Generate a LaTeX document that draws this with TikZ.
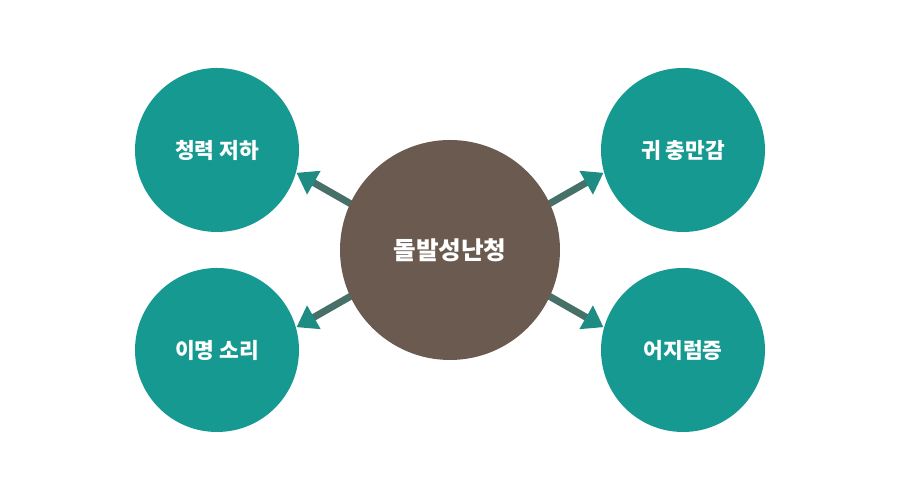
\documentclass[tikz,border=0pt]{standalone}
\usepackage{fontspec}
\newfontfamily\kr{Noto Sans CJK KR}
\usetikzlibrary{arrows.meta,backgrounds}
\definecolor{tealc}{RGB}{21,153,145}
\definecolor{brownc}{RGB}{106,90,80}
\definecolor{shaftc}{RGB}{70,112,104}
\definecolor{headc}{RGB}{30,140,130}
\tikzset{
    symptom/.style={circle,fill=tealc,minimum size=1.64cm,inner sep=0pt,
        text=white,font=\kr\bfseries\fontsize{6.1}{7}\selectfont},
    maincircle/.style={circle,fill=brownc,minimum size=2.2cm,inner sep=0pt,
        text=white,font=\kr\bfseries\fontsize{7}{8}\selectfont},
    pointer/.style={draw=shaftc,line width=0.07cm,
        -{Triangle[length=0.2cm,width=0.26cm,color=headc]}},
}
\newcommand\SymptomNode[3]{%
    \node[symptom] (#1) at (#2) {#3};
}

\begin{document}
\begin{tikzpicture}
    \useasboundingbox (0,0) rectangle (9,5);
    \node[maincircle] (main) at (4.5,2.5) {돌발성난청};
    \SymptomNode{tl}{2.17,3.5}{청력 저하}
    \SymptomNode{tr}{6.83,3.5}{귀 충만감}
    \SymptomNode{bl}{2.17,1.5}{이명 소리}
    \SymptomNode{br}{6.83,1.5}{어지럼증}
    \begin{scope}[on background layer] % arrows under the circles
        \draw[pointer,shorten <=-0.1cm] (main.155) -- (tl.-16);
        \draw[pointer,shorten <=-0.1cm] (main.25) -- (tr.196);
        \draw[pointer,shorten <=-0.1cm] (main.205) -- (bl.16);
        \draw[pointer,shorten <=-0.1cm] (main.-25) -- (br.164);
    \end{scope}
\end{tikzpicture}
\end{document}
